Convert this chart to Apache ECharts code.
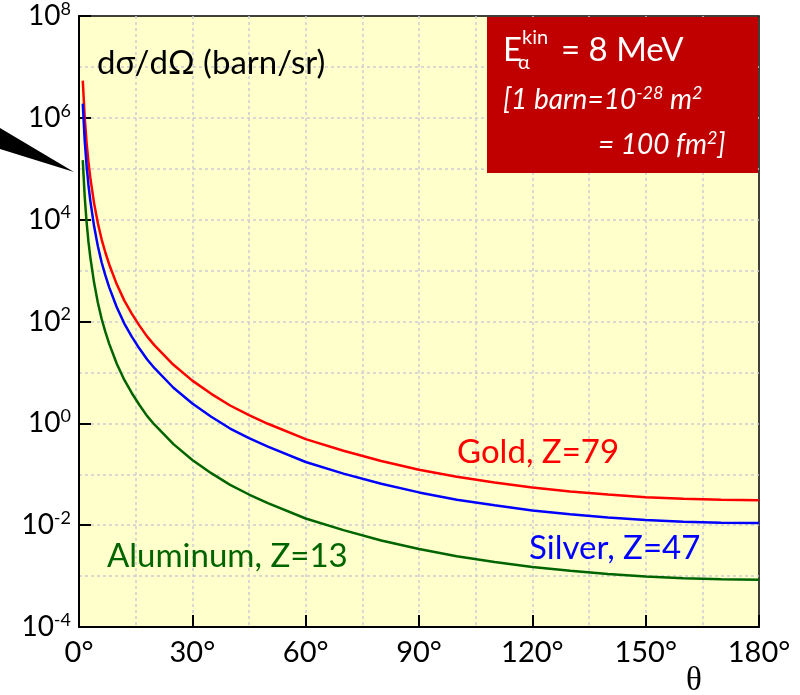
<!DOCTYPE html>
<html>
<head>
<meta charset="utf-8">
<script src="https://cdn.jsdelivr.net/npm/echarts@6/dist/echarts.min.js"></script>
<style>html,body{margin:0;padding:0;background:#fff}#c{width:800px;height:695px}</style>
</head>
<body>
<div id="c"></div>
<script>
// scattering angle (degrees)
const angles = [1, 1.5, 2, 2.5, 3, 4, 5, 6, 7, 8, 10, 12, 14, 16, 18, 20, 25, 30, 35, 40, 45, 50, 60, 70, 80, 90, 100, 110, 120, 130, 140, 150, 160, 170, 180];
// dσ/dΩ in barn/sr
const gold = [5.37e6, 1.05e6, 3.31e5, 1.35e5, 6.6e4, 2.09e4, 8.5e3, 4.07e3, 2.24e3, 1.32e3, 537, 257, 141, 83, 51, 34, 14.1, 6.9, 3.8, 2.24, 1.45, 0.98, 0.49, 0.29, 0.182, 0.123, 0.089, 0.069, 0.055, 0.046, 0.040, 0.0355, 0.0331, 0.0316, 0.0309];
const silver = [1.9e6, 3.7e5, 1.17e5, 4.8e4, 2.34e4, 7.4e3, 3.0e3, 1.44e3, 795, 468, 191, 91, 50, 29.4, 18.1, 12.1, 5.0, 2.45, 1.35, 0.79, 0.51, 0.35, 0.174, 0.103, 0.065, 0.044, 0.0316, 0.0245, 0.0195, 0.0163, 0.0142, 0.0126, 0.0117, 0.0112, 0.0110];
const aluminum = [1.48e5, 2.9e4, 9.1e3, 3.7e3, 1.82e3, 575, 234, 112, 62, 36.4, 14.8, 7.1, 3.9, 2.29, 1.40, 0.94, 0.39, 0.19, 0.105, 0.062, 0.040, 0.027, 0.0135, 0.0080, 0.0050, 0.0034, 0.00245, 0.0019, 0.00151, 0.00127, 0.0011, 0.00098, 0.00091, 0.00087, 0.00085];
const seriesNames = ['Gold, Z=79', 'Silver, Z=47', 'Aluminum, Z=13'];
const xTickLabels = ['0°', '30°', '60°', '90°', '120°', '150°', '180°'];

const FONT = 'Lato, "Open Sans", sans-serif';
const pair = arr => angles.map((a, i) => [a, arr[i]]);
const chart = echarts.init(document.getElementById('c'), null, {renderer: 'canvas'});
const grid = {left: 79, top: 16, right: 41, bottom: 68};
const gridLine = {show: true, showMinLine: false, showMaxLine: false, lineStyle: {color: '#cdcdd4', width: 1.5, type: [3, 3]}};

const option = {
  animation: false,
  backgroundColor: '#ffffff',
  grid: Object.assign({show: true, backgroundColor: '#FFFFCC', borderColor: '#000', borderWidth: 1.5}, grid),
  xAxis: [
    {type: 'value', min: 0, max: 180, interval: 15, axisLine: {show: false}, axisTick: {show: false}, axisLabel: {show: false}, splitLine: gridLine},
    {type: 'value', min: 0, max: 180, interval: 30, position: 'bottom',
     axisLine: {show: true, onZero: false, lineStyle: {color: '#000', width: 2}},
     axisTick: {show: true, inside: true, length: 12, lineStyle: {color: '#000', width: 2}},
     axisLabel: {margin: 11, color: '#000', fontSize: 29, fontFamily: FONT, formatter: v => xTickLabels[Math.round(v / 30)]},
     splitLine: {show: false}}
  ],
  yAxis: [
    {type: 'log', logBase: 10, min: 1e-4, max: 1e8, interval: 1, axisLine: {show: false}, axisTick: {show: false}, axisLabel: {show: false}, splitLine: gridLine},
    {type: 'log', logBase: 10, min: 1e-4, max: 1e8, interval: 2, position: 'left',
     axisLine: {show: true, onZero: false, lineStyle: {color: '#000', width: 2}},
     axisTick: {show: true, inside: true, length: 12, lineStyle: {color: '#000', width: 2}},
     axisLabel: {margin: 8, color: '#000', fontFamily: FONT,
       formatter: v => '{b|10}{s|' + Math.round(Math.log10(v)) + '}',
       rich: {b: {fontSize: 28, fontFamily: FONT, color: '#000', lineHeight: 32}, s: {fontSize: 18, fontFamily: FONT, color: '#000', verticalAlign: 'top', lineHeight: 20}}},
     splitLine: {show: false}}
  ],
  series: [
    {name: seriesNames[0], type: 'line', data: pair(gold), showSymbol: false, smooth: false, lineStyle: {color: '#FF0000', width: 2.5}, z: 5},
    {name: seriesNames[1], type: 'line', data: pair(silver), showSymbol: false, smooth: false, lineStyle: {color: '#0000FF', width: 2.5}, z: 5},
    {name: seriesNames[2], type: 'line', data: pair(aluminum), showSymbol: false, smooth: false, lineStyle: {color: '#006400', width: 2.5}, z: 5}
  ],
  graphic: [
    {type: 'polygon', shape: {points: [[0, 128], [0, 149], [74, 172]]}, style: {fill: '#000'}, z: 10},
    {type: 'text', x: 97, y: 63, style: {text: 'dσ/dΩ (barn/sr)', font: '33px ' + FONT, fill: '#000', textVerticalAlign: 'middle'}, z: 10},
    {type: 'rect', shape: {x: 487, y: 17, width: 271, height: 156}, style: {fill: '#C00000'}, z: 10},
    {type: 'text', x: 503, y: 50, style: {text: 'E', font: '33px ' + FONT, fill: '#fff', textVerticalAlign: 'middle'}, z: 11},
    {type: 'text', x: 522, y: 38, style: {text: 'kin', font: '20px ' + FONT, fill: '#fff', textVerticalAlign: 'middle'}, z: 11},
    {type: 'text', x: 518, y: 63, style: {text: 'α', font: '20px ' + FONT, fill: '#fff', textVerticalAlign: 'middle'}, z: 11},
    {type: 'text', x: 561, y: 50, style: {text: '= 8 MeV', font: '33px ' + FONT, fill: '#fff', textVerticalAlign: 'middle'}, z: 11},
    {type: 'text', x: 503, y: 100, style: {text: '{m|[1 barn=10}{s|-28}{m| m}{s|2}', fill: '#fff', textVerticalAlign: 'middle',
      rich: {m: {font: 'italic 28px ' + FONT, fill: '#fff', lineHeight: 32}, s: {font: 'italic 18px ' + FONT, fill: '#fff', verticalAlign: 'top', lineHeight: 18}}}, z: 11},
    {type: 'text', x: 598, y: 145, style: {text: '{m|= 100 fm}{s|2}{m|]}', fill: '#fff', textVerticalAlign: 'middle',
      rich: {m: {font: 'italic 28px ' + FONT, fill: '#fff', lineHeight: 32}, s: {font: 'italic 18px ' + FONT, fill: '#fff', verticalAlign: 'top', lineHeight: 18}}}, z: 11},
    {type: 'text', x: 457, y: 452, style: {text: seriesNames[0], font: '33px ' + FONT, fill: '#FF0000', textVerticalAlign: 'middle'}, z: 10},
    {type: 'text', x: 529, y: 548, style: {text: seriesNames[1], font: '33px ' + FONT, fill: '#0000FF', textVerticalAlign: 'middle'}, z: 10},
    {type: 'text', x: 107, y: 556, style: {text: seriesNames[2], font: '33px ' + FONT, fill: '#006400', textVerticalAlign: 'middle'}, z: 10},
    {type: 'text', x: 686, y: 681, style: {text: 'θ', font: '33px "Liberation Serif", serif', fill: '#000', textVerticalAlign: 'middle'}, z: 10}
  ]
};
chart.setOption(option);
</script>
</body>
</html>
